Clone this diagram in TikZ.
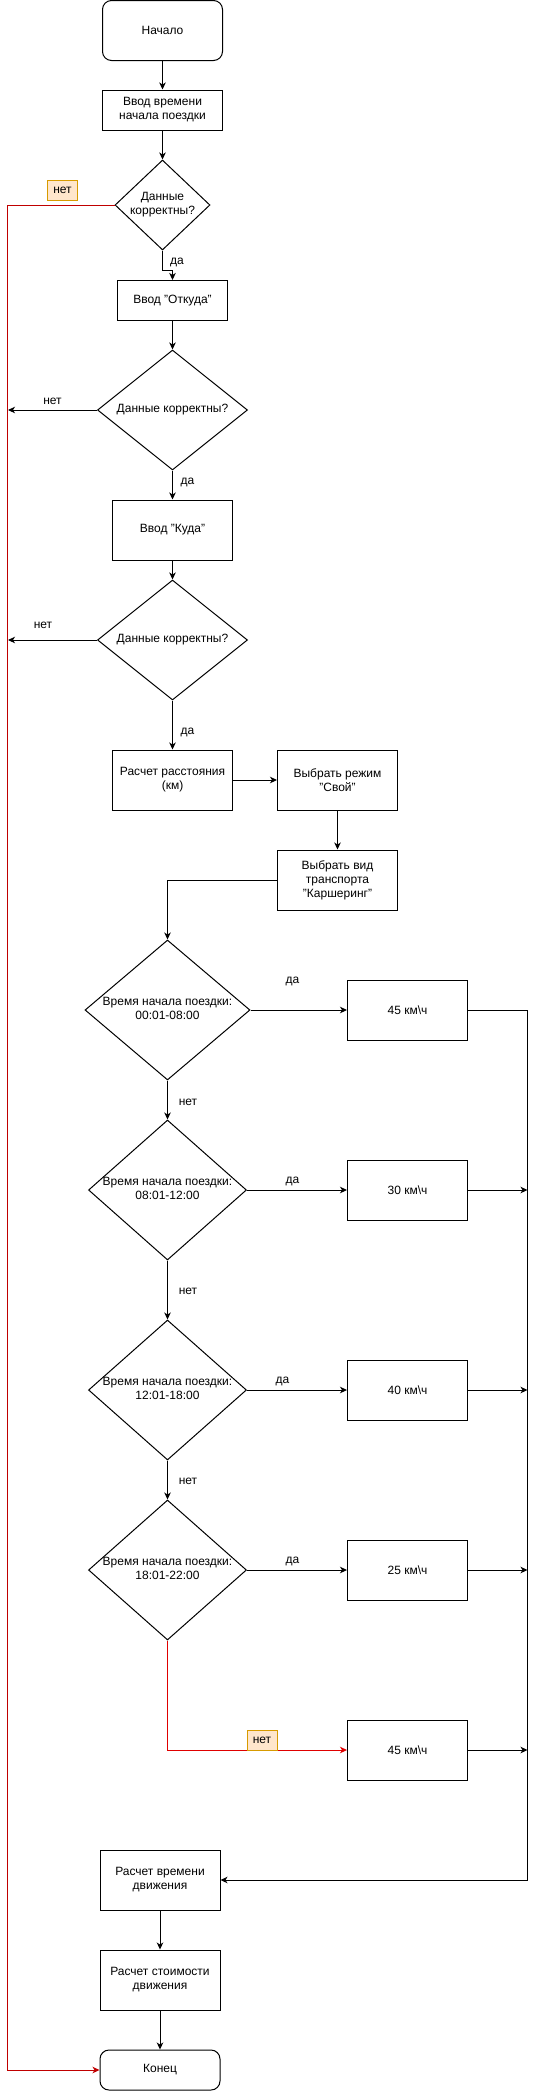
\documentclass[tikz,border=0pt]{standalone}
\usepackage{fontspec}
\setmainfont{Liberation Sans}
\usetikzlibrary{arrows.meta,shapes.geometric}
\definecolor{redA}{HTML}{C00000}
\definecolor{redB}{HTML}{E00000}
\definecolor{tagfill}{HTML}{FFE6CC}
\definecolor{tagdraw}{HTML}{D79B00}
\newcommand{\dtxt}[1]{\makebox[0pt]{\begin{tabular}{@{}c@{}}#1\end{tabular}}}
\begin{document}
\begin{tikzpicture}[x=1pt,y=-1pt,
  every node/.style={font=\fontsize{12}{14}\selectfont, inner sep=0pt},
  proc/.style={draw, line width=1pt, align=center, minimum width=120pt, minimum height=60pt},
  term/.style={proc, rounded corners=9pt},
  dec/.style={draw, diamond, line width=1pt, aspect=1},
  tagbox/.style={draw=tagdraw, fill=tagfill, line width=1pt, minimum width=30pt, minimum height=20pt},
  arr/.style={line width=1pt, -{Stealth[length=7pt,width=6.5pt,inset=2pt]}}]
\useasboundingbox (0,0) rectangle (536,2091);

% nodes
\node[term] (start) at (162.5,30.5) {Начало};
\node[proc, minimum height=40pt] (t) at (162.5,110) {Ввод времени\\начала поездки};
\node[dec, minimum width=95pt, minimum height=90pt] (d1) at (162.5,205) {\dtxt{Данные\\корректны?}};
\node[proc, minimum width=110pt, minimum height=40pt] (otk) at (172.5,300.5) {Ввод "Откуда"};
\node[dec, minimum width=150pt, minimum height=120pt] (d2) at (172.5,410) {\dtxt{Данные корректны?}};
\node[proc] (kuda) at (172.5,530) {Ввод "Куда"};
\node[dec, minimum width=150pt, minimum height=120pt] (d3) at (172.5,640) {\dtxt{Данные корректны?}};
\node[proc] (dist) at (172.5,780) {Расчет расстояния\\(км)};
\node[proc] (mode) at (337.5,780) {Выбрать режим\\"Свой"};
\node[proc] (vid) at (337.5,880) {Выбрать вид\\транспорта\\"Каршеринг"};
\node[dec, minimum width=165pt, minimum height=140pt] (d4) at (167.5,1010) {\dtxt{Время начала поездки:\\00:01-08:00}};
\node[proc] (v1) at (407.5,1010) {45 км\textbackslash ч};
\node[dec, minimum width=158pt, minimum height=140pt] (d5) at (167.5,1190) {\dtxt{Время начала поездки:\\08:01-12:00}};
\node[proc] (v2) at (407.5,1190) {30 км\textbackslash ч};
\node[dec, minimum width=158pt, minimum height=140pt] (d6) at (167.5,1390) {\dtxt{Время начала поездки:\\12:01-18:00}};
\node[proc] (v3) at (407.5,1390) {40 км\textbackslash ч};
\node[dec, minimum width=158pt, minimum height=140pt] (d7) at (167.5,1570) {\dtxt{Время начала поездки:\\18:01-22:00}};
\node[proc] (v4) at (407.5,1570) {25 км\textbackslash ч};
\node[proc] (v5) at (407.5,1750) {45 км\textbackslash ч};
\node[proc] (calct) at (160,1880) {Расчет времени\\движения};
\node[proc] (calcc) at (160,1980) {Расчет стоимости\\движения};
\node[term, minimum height=40pt] (fin) at (160,2070) {Конец};

% helper coordinates
\coordinate (j1) at (172.5,270.5);
\coordinate (L) at (7.5,205);
\coordinate (n2) at (8,410);
\coordinate (n3) at (8,640);
\coordinate (bus) at (527.5,1010);

% main flow
\draw[arr] (start) -- (t);
\draw[arr] (t) -- (d1);
\draw[arr] (d1.south) |- (j1) -- (otk.north);
\draw[arr] (otk) -- (d2);
\draw[arr] (d2) -- (kuda);
\draw[arr] (kuda) -- (d3);
\draw[arr] (d3) -- (dist);
\draw[arr] (dist) -- (mode);
\draw[arr] (mode) -- (vid);
\draw[arr] (vid.west) -| (d4.north);
\draw[arr] (d4) -- (v1);
\draw[arr] (d4) -- (d5);
\draw[arr] (d5) -- (v2);
\draw[arr] (d5) -- (d6);
\draw[arr] (d6) -- (v3);
\draw[arr] (d6) -- (d7);
\draw[arr] (d7) -- (v4);
\draw[arr, redB] (d7.south) |- (v5.west);

% collector
\draw[arr] (v1.east) -- (bus) |- (calct.east);
\draw[arr] (v2.east) -- (v2.east -| bus);
\draw[arr] (v3.east) -- (v3.east -| bus);
\draw[arr] (v4.east) -- (v4.east -| bus);
\draw[arr] (v5.east) -- (v5.east -| bus);
\draw[arr] (calct) -- (calcc);
\draw[arr] (calcc) -- (fin);

% no-branches
\draw[arr, redA] (d1.west) -- (L) |- (fin.west);
\draw[arr] (d2.west) -- (n2);
\draw[arr] (d3.west) -- (n3);

% labels
\node[tagbox] (tg1) at (62.5,190.5) {нет};
\node[tagbox] (tg2) at (262,1740) {нет};
\node (l1) at (177,262) {да};
\node (l2) at (52.5,401) {нет};
\node (l3) at (187.5,482) {да};
\node (l4) at (43,625) {нет};
\node (l5) at (187.5,732) {да};
\node (l6) at (292.5,981) {да};
\node (l7) at (188,1102) {нет};
\node (l8) at (292.5,1181) {да};
\node (l9) at (188,1291) {нет};
\node (l10) at (282.5,1381) {да};
\node (l11) at (188,1481) {нет};
\node (l12) at (292.5,1561) {да};
\end{tikzpicture}
\end{document}
